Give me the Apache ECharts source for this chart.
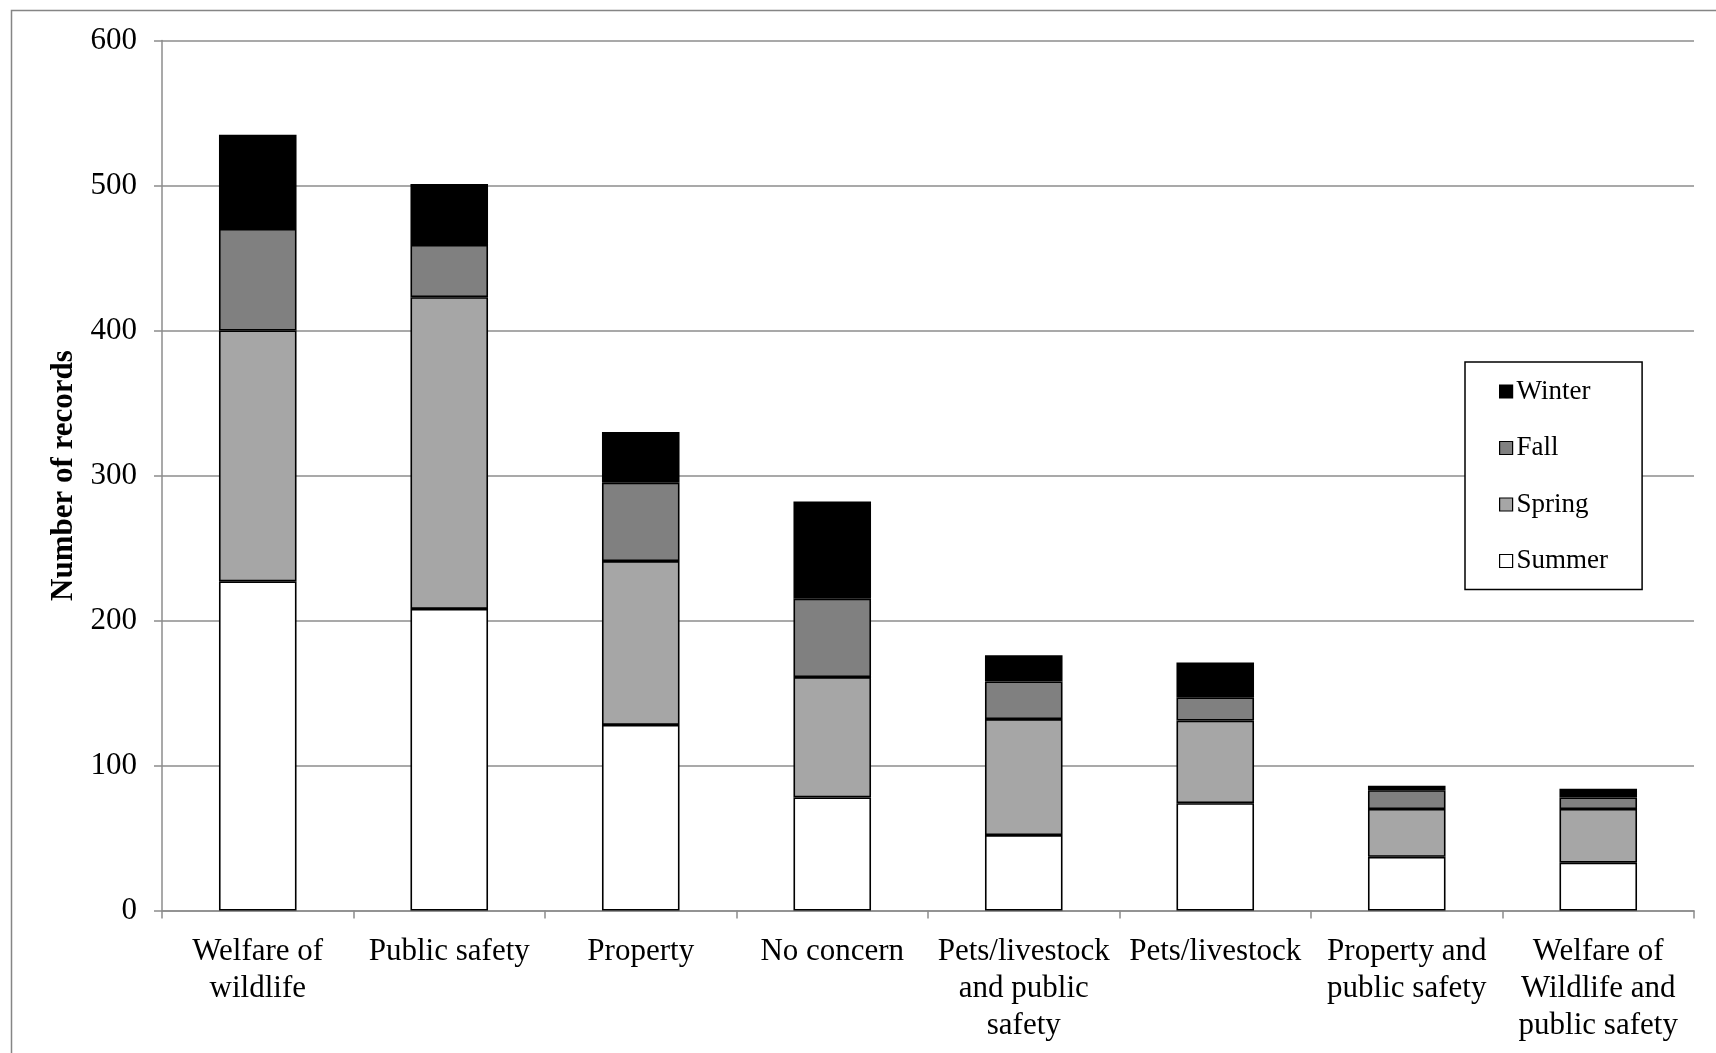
<!DOCTYPE html>
<html>
<head>
<meta charset="utf-8">
<script src="https://cdn.jsdelivr.net/npm/echarts@6/dist/echarts.min.js"></script>
<style>
  html, body { margin: 0; padding: 0; background: #fff; }
  #chart { width: 1716px; height: 1053px; }
</style>
</head>
<body>
<div id="chart"></div>
<script>
// Records by primary concern, stacked by season
const categories = [
  'Welfare of\nwildlife',
  'Public safety',
  'Property',
  'No concern',
  'Pets/livestock\nand public\nsafety',
  'Pets/livestock',
  'Property and\npublic safety',
  'Welfare of\nWildlife and\npublic safety'
];
const summer = [227, 208, 128, 78, 52, 74, 37, 33];
const spring = [173, 215, 113, 83, 80, 57, 33, 37];
const fall   = [70, 36, 54, 54, 26, 16, 13, 8];
const winter = [65, 42, 35, 67, 18, 24, 3, 6];
const yTicks = { min: 0, max: 600, interval: 100 };

const FONT = '"Liberation Serif", "Times New Roman", serif';

function seasonSeries(name, data, color) {
  return {
    name: name,
    type: 'bar',
    stack: 'total',
    data: data,
    barWidth: '40.5%',
    itemStyle: { color: color, borderColor: '#000', borderWidth: 1.6 },
    emphasis: { disabled: true }
  };
}

const chart = echarts.init(document.getElementById('chart'), null, { renderer: 'canvas' });
chart.setOption({
  animation: false,
  backgroundColor: '#fff',
  textStyle: { fontFamily: FONT },
  graphic: [{
    type: 'rect',
    left: 9, top: 8,
    shape: { width: 1800, height: 1200 },
    style: { fill: 'none', stroke: '#858585', lineWidth: 1.5 },
    silent: true, z: -1
  }],
  grid: { left: 162, right: 22, top: 40.5, bottom: 142.5 },
  legend: {
    orient: 'vertical',
    left: 1465, top: 362,
    data: ['Winter', 'Fall', 'Spring', 'Summer'],
    itemWidth: 13, itemHeight: 13, itemGap: 29.5,
    padding: [16, 34, 15, 34],
    borderColor: '#000', borderWidth: 1.5,
    backgroundColor: '#fff',
    icon: 'rect',
    itemStyle: { borderColor: '#000', borderWidth: 1.2 },
    textStyle: { fontFamily: FONT, fontSize: 27, color: '#000', lineHeight: 27, padding: [0, 0, 0, -1] },
    selectedMode: false
  },
  xAxis: {
    type: 'category',
    data: categories,
    axisLine: { lineStyle: { color: '#8c8c8c', width: 1.5 } },
    axisTick: { show: true, length: 8, lineStyle: { color: '#8c8c8c', width: 1.5 } },
    axisLabel: {
      interval: 0, margin: 23,
      fontFamily: FONT, fontSize: 31, color: '#000', lineHeight: 37, align: 'center'
    }
  },
  yAxis: {
    type: 'value',
    min: yTicks.min, max: yTicks.max, interval: yTicks.interval,
    name: 'Number of records',
    nameLocation: 'middle',
    nameGap: 81,
    nameTextStyle: { fontFamily: FONT, fontSize: 31, fontWeight: 'bold', color: '#000' },
    axisLine: { show: true, lineStyle: { color: '#8c8c8c', width: 1.5 } },
    axisTick: { show: true, length: 8, lineStyle: { color: '#8c8c8c', width: 1.5 } },
    axisLabel: { margin: 25, fontFamily: FONT, fontSize: 31, color: '#000' },
    splitLine: { show: true, lineStyle: { color: '#8c8c8c', width: 1.5 } }
  },
  series: [
    seasonSeries('Summer', summer, '#ffffff'),
    seasonSeries('Spring', spring, '#a6a6a6'),
    seasonSeries('Fall', fall, '#808080'),
    seasonSeries('Winter', winter, '#000000')
  ]
});
</script>
</body>
</html>
